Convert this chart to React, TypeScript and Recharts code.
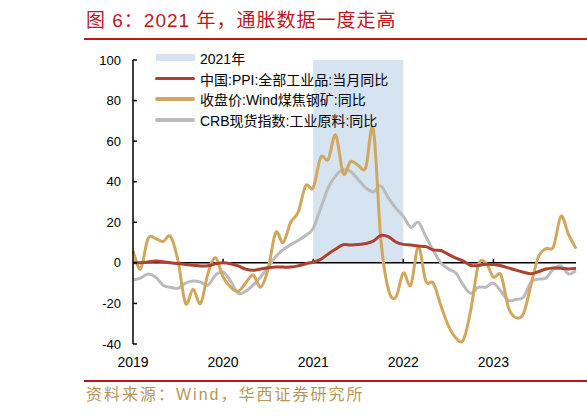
import { LineChart, Line, XAxis, YAxis, ReferenceArea, ReferenceLine } from 'recharts'

// x 轴：2019-01 起的月份序号，刻度只标年份
const yearTicks = [0, 12, 24, 36, 48]
const yearLabels = ['2019', '2020', '2021', '2022', '2023']
const yTicks = [-40, -20, 0, 20, 40, 60, 80, 100]

// 中国:PPI:全部工业品:当月同比（2019-01 ~ 2023-12）
const ppi = [
  0.1, 0.1, 0.4, 0.9, 0.6, 0.0, -0.3, -0.8, -1.2, -1.6, -1.4, -0.5,
  0.1, -0.4, -1.5, -3.1, -3.7, -3.0, -2.4, -2.0, -2.1, -2.1, -1.5, -0.4,
  0.3, 1.7, 4.4, 6.8, 9.0, 8.8, 9.0, 9.5, 10.7, 13.5, 12.9, 10.3,
  9.1, 8.8, 8.3, 8.0, 6.4, 6.1, 4.2, 2.3, 0.9, -1.3, -1.3, -0.7,
  -0.8, -1.4, -2.5, -3.6, -4.6, -5.4, -4.4, -3.0, -2.5, -2.6, -3.0, -2.7,
]

// 收盘价:Wind煤焦钢矿:同比
const coal = [
  6, -3, 12, 12, 10.5, 13, 1, -20, -13, -20, -5, 2.5,
  -7, -12, -14, -10, -6, -12, -3, 15, 10, 20, 25, 38,
  37, 52, 51, 63, 44, 50, 48, 47, 66, 12, -13, -17,
  -5, -11, 8, -9, -10, -21, -31, -37, -38, -23, -1, 0,
  -7, -6, -22, -27, -25, -11, 3, 7, 8, 23, 14, 7,
]

// CRB现货指数:工业原料:同比
const crb = [
  -8.5, -7.5, -5.5, -7, -11, -12, -12.5, -10, -9, -9.5, -11, -6,
  -4.5, -9, -15, -14, -11, -7, -2, 3, 6.5, 9, 11, 13.5,
  17, 27, 37, 43, 46, 45, 41, 37, 35, 38, 32, 27,
  23, 17.5, 20, 13, 6, 0, -3, -5, -11, -15, -12, -12,
  -10, -14, -18.5, -18, -17, -9.5, -8, -7.5, -3, -1.5, -5.5, -4,
]

const data = ppi.map((v, i) => ({ m: i, ppi: v, coal: coal[i], crb: crb[i] }))

const RED = '#c0161e'
const PPI_COLOR = '#ac4230'
const COAL_COLOR = '#d1a75e'
const CRB_COLOR = '#bbbbbb'
const SHADE = '#d6e3f0'
const FONT = '"Liberation Sans", "Noto Sans CJK SC", sans-serif'

const legendItems = [
  { name: '2021年', color: SHADE, kind: 'rect' },
  { name: '中国:PPI:全部工业品:当月同比', color: PPI_COLOR, kind: 'line' },
  { name: '收盘价:Wind煤焦钢矿:同比', color: COAL_COLOR, kind: 'line' },
  { name: 'CRB现货指数:工业原料:同比', color: CRB_COLOR, kind: 'line' },
]

// 平滑线（Catmull-Rom 转贝塞尔），模仿原图的平滑折线
const smoothCurve = (context: any) => {
  let pts: number[][] = []
  return {
    areaStart() {},
    areaEnd() {},
    lineStart() {
      pts = []
    },
    lineEnd() {
      if (!pts.length) return
      context.moveTo(pts[0][0], pts[0][1])
      for (let i = 0; i < pts.length - 1; i++) {
        const p0 = pts[i - 1] || pts[i]
        const p1 = pts[i]
        const p2 = pts[i + 1]
        const p3 = pts[i + 2] || p2
        context.bezierCurveTo(
          p1[0] + (p2[0] - p0[0]) / 6,
          p1[1] + (p2[1] - p0[1]) / 6,
          p2[0] - (p3[0] - p1[0]) / 6,
          p2[1] - (p3[1] - p1[1]) / 6,
          p2[0],
          p2[1],
        )
      }
    },
    point(x: number, y: number) {
      pts.push([+x, +y])
    },
  }
}

export default function App() {
  return (
    <div style={{ position: 'absolute', left: 0, top: 0, width: 587, height: 416, background: '#fff', fontFamily: FONT, overflow: 'hidden' }}>
      <LineChart width={587} height={416} data={data} margin={{ top: 60, right: 11, left: 73, bottom: 42 }}>
        <ReferenceArea x1={24} x2={36} y1={0} y2={100} fill={SHADE} fillOpacity={1} stroke="none" />
        <XAxis
          dataKey="m"
          type="number"
          domain={[0, 59]}
          ticks={yearTicks}
          tickFormatter={(v) => yearLabels[yearTicks.indexOf(v)]}
          axisLine={false}
          tickLine={false}
          tickSize={6}
          tickMargin={7}
          height={30}
          tick={{ fill: '#000', fontSize: 14, fontFamily: FONT }}
          interval={0}
        />
        <YAxis
          domain={[-40, 100]}
          ticks={yTicks}
          width={60}
          axisLine={{ stroke: '#000', strokeWidth: 1.5 }}
          tickLine={{ stroke: '#000', strokeWidth: 1.5 }}
          tickSize={-4}
          tickMargin={16}
          tick={{ fill: '#000', fontSize: 13, fontFamily: FONT }}
          interval={0}
        />
        <ReferenceLine y={0} stroke="#000" strokeWidth={1.5} />
        {yearTicks.slice(1).map((t) => (
          <ReferenceLine
            key={t}
            segment={[{ x: t, y: 0 }, { x: t, y: 2 }]}
            stroke="#000"
            strokeWidth={1.5}
          />
        ))}
        <Line type={smoothCurve as any} dataKey="crb" stroke={CRB_COLOR} strokeWidth={3} dot={false} isAnimationActive={false} />
        <Line type={smoothCurve as any} dataKey="coal" stroke={COAL_COLOR} strokeWidth={3} dot={false} isAnimationActive={false} />
        <Line type={smoothCurve as any} dataKey="ppi" stroke={PPI_COLOR} strokeWidth={3} dot={false} isAnimationActive={false} />
      </LineChart>

      {/* 标题 */}
      <div style={{ position: 'absolute', left: 86, top: 7, fontSize: 19, lineHeight: '28px', color: RED, letterSpacing: 1, whiteSpace: 'nowrap' }}>
        图 6：2021 年，通胀数据一度走高
      </div>
      <div style={{ position: 'absolute', left: 84, top: 38, width: 503, height: 2, background: RED }} />

      {/* 图例 */}
      <div style={{ position: 'absolute', left: 155, top: 47.5 }}>
        {legendItems.map((item) => (
          <div key={item.name} style={{ display: 'flex', alignItems: 'center', height: 20.7, fontSize: 14, color: '#000', whiteSpace: 'nowrap' }}>
            {item.kind === 'rect' ? (
              <span style={{ display: 'inline-block', width: 39, height: 7, background: item.color, marginLeft: 1, marginRight: 5 }} />
            ) : (
              <span style={{ display: 'inline-block', width: 40, height: 3.5, borderRadius: 2, background: item.color, marginRight: 5 }} />
            )}
            <span>{item.name}</span>
          </div>
        ))}
      </div>

      {/* 资料来源 */}
      <div style={{ position: 'absolute', left: 84, top: 380, width: 503, height: 1.5, background: RED }} />
      <div style={{ position: 'absolute', left: 86, top: 384, fontSize: 16, lineHeight: '22px', color: '#b99658', letterSpacing: 2, whiteSpace: 'nowrap' }}>
        资料来源：Wind，华西证券研究所
      </div>
    </div>
  )
}
